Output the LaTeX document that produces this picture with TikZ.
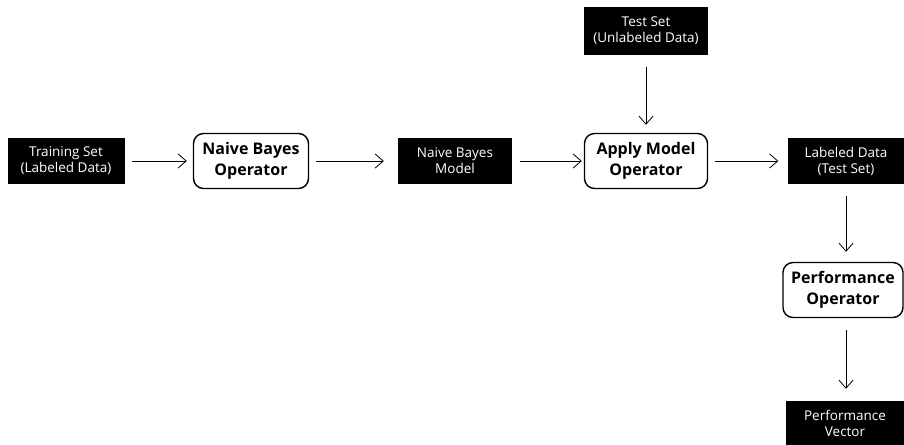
\documentclass[tikz,border=0pt]{standalone}
\usepackage{fontspec}
\setmainfont{Open Sans}
\usetikzlibrary{arrows.meta}
\tikzset{
    databox/.style={fill=black, text=white, align=center, font=\fontsize{13.5}{16}\selectfont, minimum height=46pt, inner sep=2pt},
    opbox/.style={draw, line width=1.4pt, rounded corners=10pt, align=center, font=\fontsize{16}{21}\bfseries\selectfont, minimum height=55pt, inner sep=3pt},
    flow/.style={-{Straight Barb[length=8pt, width=14pt]}, line width=0.8pt}}

\begin{document}
\begin{tikzpicture}[x=1pt, y=1pt]
    \useasboundingbox (0,0) rectangle (904,444);

        \node[databox, minimum width=117pt] (train) at (66,283) {Training Set\\(Labeled Data)};
        \node[opbox, minimum width=115pt] (nbop) at (251,283) {Naive Bayes\\Operator};
        \node[databox, minimum width=114pt] (model) at (455,283) {Naive Bayes\\Model};
        \node[opbox, minimum width=123pt] (apply) at (646,283) {Apply Model\\Operator};
        \node[databox, minimum width=124pt, minimum height=48pt] (test) at (646,413) {Test Set\\(Unlabeled Data)};
        \node[databox, minimum width=117pt] (labeled) at (846,283) {Labeled Data\\(Test Set)};
        \node[opbox, minimum width=120pt] (perf) at (843,154) {Performance\\Operator};
        \node[databox, minimum width=119pt, minimum height=44pt] (vector) at (845,21) {Performance\\Vector};

        \draw[flow] ([xshift=7pt]train.east) -- ([xshift=-6pt]nbop.west);
        \draw[flow] ([xshift=7pt]nbop.east) -- ([xshift=-14pt]model.west);
        \draw[flow] ([xshift=8pt]model.east) -- ([xshift=-2pt]apply.west);
        \draw[flow] ([yshift=-12pt]test.south) -- ([yshift=8pt]apply.north);
        \draw[flow] ([xshift=7pt]apply.east) -- ([xshift=-9pt]labeled.west);
        \draw[flow] ([yshift=-12pt]labeled.south) -- ([yshift=10pt]labeled.south |- perf.north);
        \draw[flow] ([yshift=-12pt]labeled.south |- perf.south) -- ([yshift=12pt]labeled.south |- vector.north);

\end{tikzpicture}
\end{document}
